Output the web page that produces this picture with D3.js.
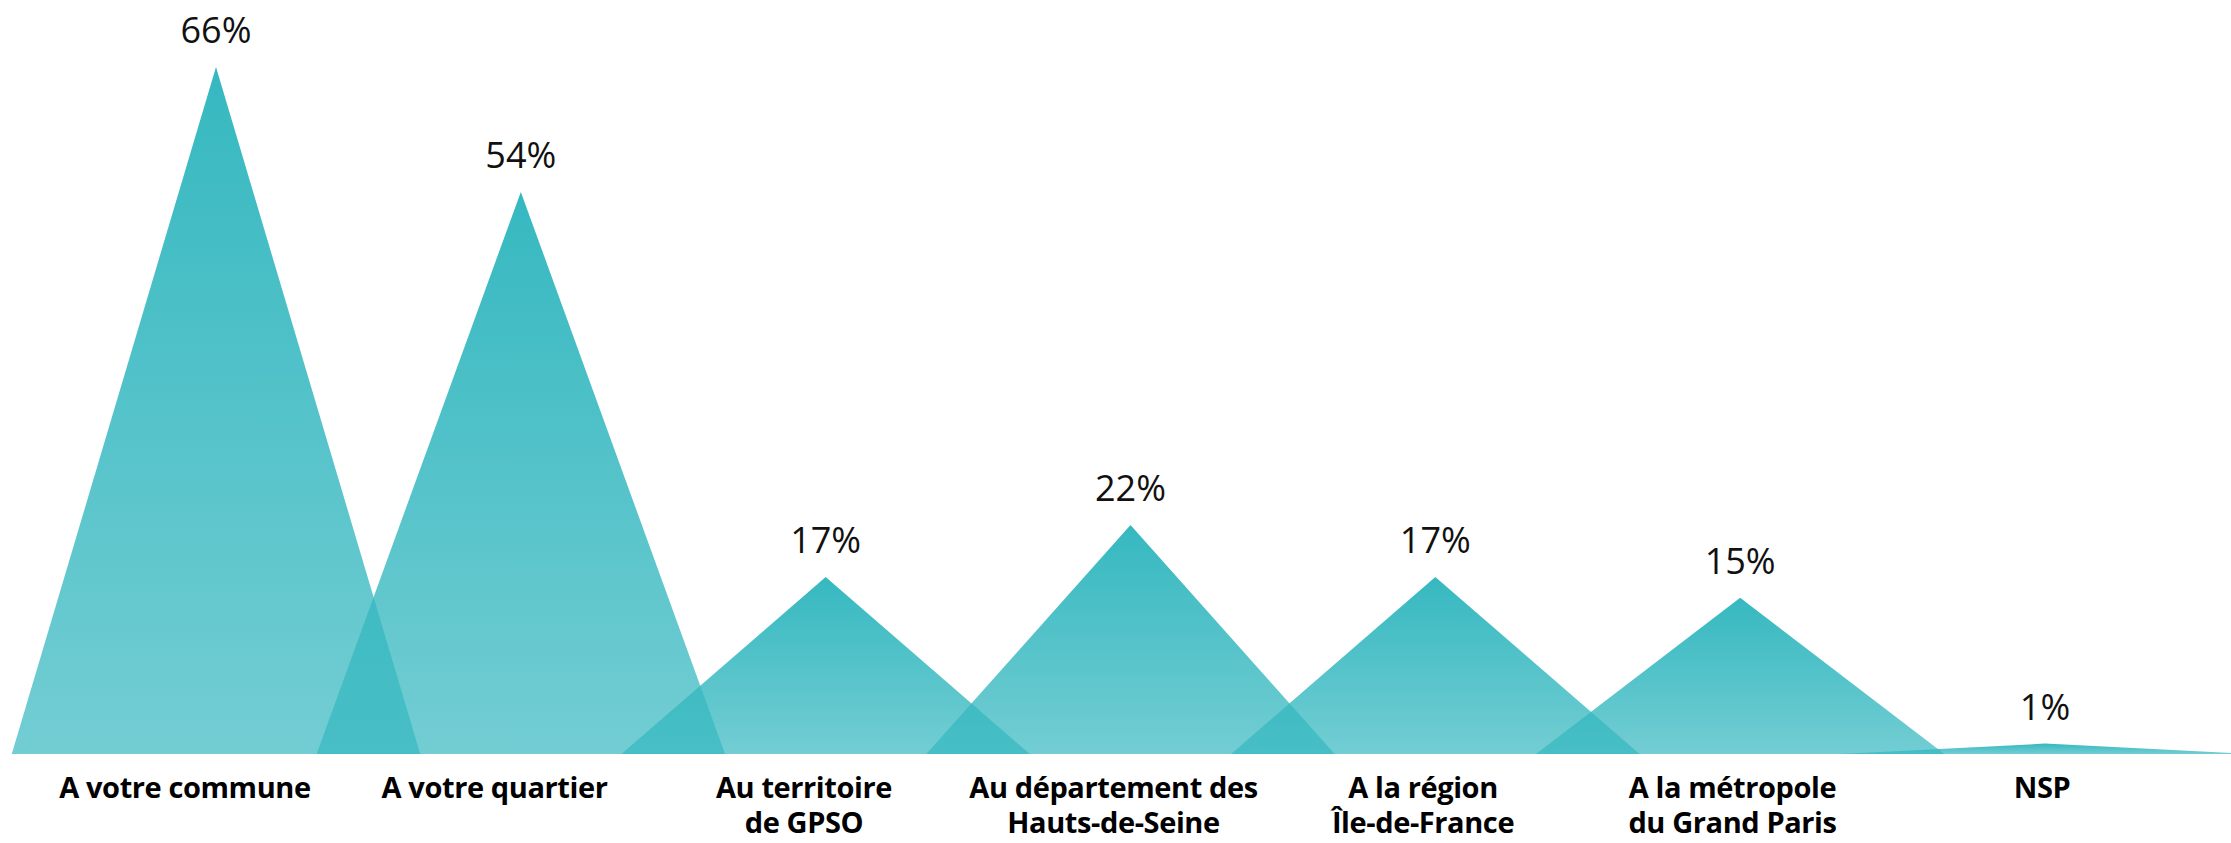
<!DOCTYPE html>
<html>
<head>
<meta charset="utf-8">
<script src="https://cdn.jsdelivr.net/npm/d3@7"></script>
<style>
  html, body { margin: 0; padding: 0; background: #fff; }
  svg { display: block; }
  .valueLabel { font-family: "Open Sans", sans-serif; font-size: 36px; fill: #111; }
  .catLabel { font-family: "Open Sans", sans-serif; font-weight: 700; font-size: 29px; fill: #000; letter-spacing: -0.4px; }
</style>
</head>
<body>
<div id="chart"></div>
<script>
// categories (line breaks as in the picture) and values in %
var categories = [
  "A votre commune",
  "A votre quartier",
  "Au territoire\nde GPSO",
  "Au département des\nHauts-de-Seine",
  "A la région\nÎle-de-France",
  "A la métropole\ndu Grand Paris",
  "NSP"
];
var values = [66, 54, 17, 22, 17, 15, 1];

var width = 2231, height = 843;

var svg = d3.select("#chart")
  .append("svg")
  .attr("width", width)
  .attr("height", height);

// x positions of the peaks, and of the labels under them
var x = d3.scalePoint().domain(categories).range([216, 2045]);
var xLabel = d3.scalePoint().domain(categories).range([185, 2042]);
var y = d3.scaleLinear().domain([0, 66]).range([754, 67]);

var half = x.step() * 0.67;

// vertical gradient: solid at the peak, lighter toward the base
var grad = svg.append("defs")
  .append("linearGradient")
  .attr("id", "triFill")
  .attr("x1", 0).attr("y1", 0)
  .attr("x2", 0).attr("y2", 1);
grad.append("stop").attr("offset", "0%").attr("stop-color", "#36b8c0").attr("stop-opacity", 1);
grad.append("stop").attr("offset", "100%").attr("stop-color", "#36b8c0").attr("stop-opacity", 0.7);

var data = categories.map(function(c, i) { return { cat: c, value: values[i] }; });

var line = d3.line();

svg.selectAll(".tri")
  .data(data)
  .enter()
  .append("path")
  .attr("class", "tri")
  .attr("d", function(d) {
    var cx = x(d.cat);
    return line([[cx - half, y(0)], [cx, y(d.value)], [cx + half, y(0)]]) + "Z";
  })
  .style("fill", "url(#triFill)");

// value labels above the peaks
svg.selectAll(".valueLabel")
  .data(data)
  .enter()
  .append("text")
  .attr("class", "valueLabel")
  .attr("x", function(d) { return x(d.cat); })
  .attr("y", function(d) { return y(d.value) - 24; })
  .attr("text-anchor", "middle")
  .text(function(d) { return d.value + "%"; });

// category labels under the base
var cats = svg.selectAll(".catLabel")
  .data(data)
  .enter()
  .append("text")
  .attr("class", "catLabel")
  .attr("text-anchor", "middle")
  .attr("y", 798);

cats.selectAll("tspan")
  .data(function(d) {
    return d.cat.split("\n").map(function(t) { return { t: t, cat: d.cat }; });
  })
  .enter()
  .append("tspan")
  .attr("x", function(d) { return xLabel(d.cat); })
  .attr("dy", function(d, i) { return i === 0 ? 0 : 35; })
  .text(function(d) { return d.t; });
</script>
</body>
</html>
